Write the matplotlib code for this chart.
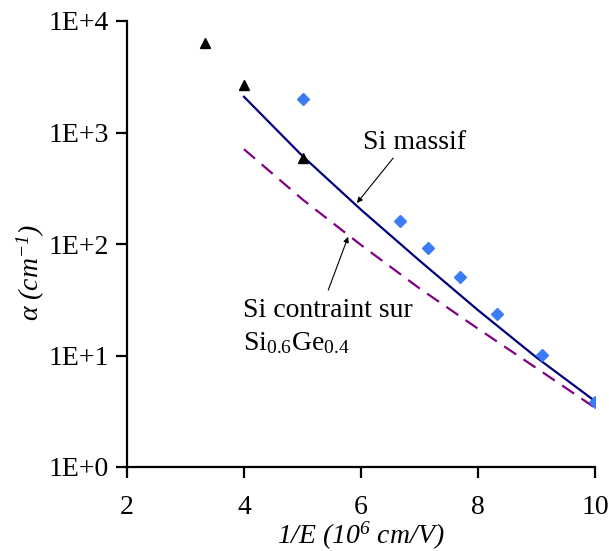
import numpy as np
import matplotlib
matplotlib.use("Agg")
import matplotlib.pyplot as plt
import matplotlib.ticker as ticker

plt.rcParams['font.family'] = ['Liberation Serif', 'DejaVu Serif']
plt.rcParams['mathtext.fontset'] = 'custom'
plt.rcParams['mathtext.rm'] = 'Liberation Serif'
plt.rcParams['mathtext.it'] = 'Liberation Serif:italic'
plt.rcParams['mathtext.default'] = 'regular'

# experimental points
tri_x = [3.33, 4.0, 5.0]
tri_y = [6300, 2650, 590]

dia_x = [5.0, 6.67, 7.14, 7.69, 8.33, 9.09, 10.0]
dia_y = [2000, 162, 93, 51, 23.5, 10.2, 3.85]

# model curves
line_x = [4, 5, 6, 7, 8, 9, 10]
massif_y = [2090, 615, 203, 71, 25.5, 9.6, 3.9]
contraint_y = [708, 251, 98, 40, 17.4, 7.7, 3.4]

yticks = [1, 10, 100, 1000, 10000]
ylabels = ["1E+0", "1E+1", "1E+2", "1E+3", "1E+4"]
xticks = [2, 4, 6, 8, 10]

fs = 20

fig = plt.figure(figsize=(6.09, 5.51), dpi=100)
fig.patch.set_facecolor("white")
ax = fig.add_axes([127/609, 84/551, 468/609, 446/551])

ax.plot(line_x, massif_y, color="#000080", lw=1.6, zorder=2)
ax.plot(line_x, contraint_y, color="#800080", lw=1.6, dashes=(6.5, 4), zorder=2)
ax.plot(dia_x, dia_y, ls="none", marker="D", ms=6.5, color="#3b7cf4", mec="#3b7cf4", zorder=3)
ax.plot(tri_x, tri_y, ls="none", marker="^", ms=6.5, color="black", zorder=3)

ax.set_yscale("log")
ax.set_xlim(2, 10)
ax.set_ylim(1, 10000)
ax.yaxis.set_major_locator(ticker.FixedLocator(yticks))
ax.yaxis.set_minor_locator(ticker.NullLocator())
ax.set_yticklabels(ylabels)
ax.set_xticks(xticks)

for s in ["top", "right"]:
    ax.spines[s].set_visible(False)
for s in ["left", "bottom"]:
    ax.spines[s].set_linewidth(1.6)
ax.tick_params(axis="both", direction="out", length=8, width=1.6, labelsize=fs, pad=5)
ax.tick_params(axis="x", pad=12)

ax.set_xlabel("1/E (10$^{6}$ cm/V)", fontsize=fs, fontstyle="italic", labelpad=0)
ax.set_ylabel("α (cm$^{-1}$)", fontsize=fs, fontstyle="italic")
ax.yaxis.set_label_coords(-0.172, 0.437)

arrow = dict(arrowstyle="-|>", color="black", lw=0.8, mutation_scale=8, shrinkA=0, shrinkB=0)
ax.annotate("", xy=(5.93, 233), xytext=(6.55, 590), arrowprops=arrow)
ax.annotate("", xy=(5.78, 116), xytext=(5.44, 38.6), arrowprops=arrow)
ax.text(6.03, 711, "Si massif", fontsize=fs, ha="left", va="baseline")
ax.text(3.98, 22.1, "Si contraint sur", fontsize=fs, ha="left", va="baseline")
ax.text(3.98, 11.2, "Si$_{0.6}$Ge$_{0.4}$", fontsize=fs, ha="left", va="baseline")

fig.savefig("out.png", dpi=100)
